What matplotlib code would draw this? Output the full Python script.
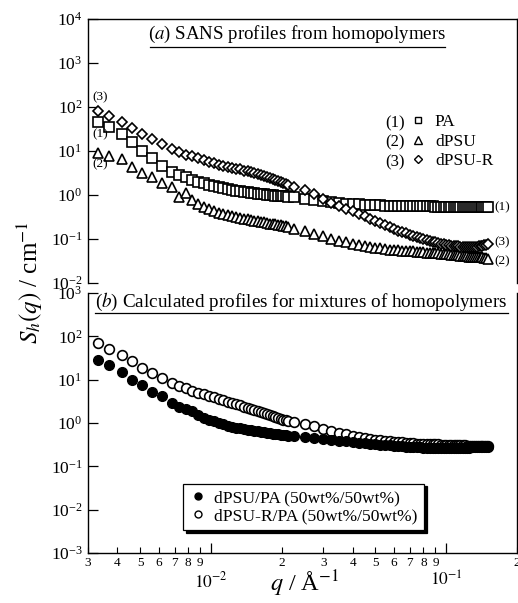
"""SANS profiles of homopolymers and calculated mixture profiles."""

import matplotlib

matplotlib.use("Agg")
import matplotlib.pyplot as plt
from matplotlib.lines import Line2D
from matplotlib.ticker import FixedLocator, FixedFormatter, LogLocator, LogFormatterMathtext, NullLocator

# scattering vector q (1/A), shared by all curves
q = [
    0.0033, 0.0037, 0.0042, 0.0046, 0.0051, 0.0056, 0.0062, 0.0068, 0.0073, 0.0078,
    0.0083, 0.0088, 0.0093, 0.0098, 0.0103, 0.0108, 0.0113, 0.0118, 0.0123, 0.0128,
    0.0133, 0.0138, 0.0143, 0.0148, 0.0153, 0.0158, 0.0163, 0.0168, 0.0173, 0.0178,
    0.0183, 0.0188, 0.0193, 0.0198, 0.0203, 0.0208, 0.0213,
    0.0225, 0.0250, 0.0275, 0.0300, 0.0325, 0.0350, 0.0375, 0.0400, 0.0425, 0.0450,
    0.0475, 0.0500, 0.0525, 0.0550, 0.0575, 0.0600, 0.0625, 0.0650, 0.0675, 0.0700,
    0.0725, 0.0750, 0.0775, 0.0800, 0.0825, 0.0850, 0.0875, 0.0900, 0.0925, 0.0950,
    0.0975, 0.1000, 0.1025, 0.1050, 0.1075, 0.1100, 0.1125, 0.1150, 0.1175, 0.1200,
    0.1225, 0.1250, 0.1275, 0.1300, 0.1325, 0.1350, 0.1375, 0.1400, 0.1425, 0.1450,
    0.1475, 0.1500,
]

# (a) homopolymers
s_pa = [
    45, 36, 24, 16, 10, 6.8, 4.6, 3.4, 2.8, 2.5,
    2.2, 2.0, 1.85, 1.7, 1.6, 1.5, 1.42, 1.36, 1.3, 1.26,
    1.22, 1.19, 1.16, 1.13, 1.1, 1.08, 1.06, 1.04, 1.02, 1.0,
    0.99, 0.97, 0.96, 0.95, 0.94, 0.93, 0.92,
    0.88, 0.82, 0.77, 0.72, 0.68, 0.65, 0.63, 0.62, 0.61, 0.60,
    0.59, 0.58, 0.58, 0.57, 0.57, 0.57, 0.56, 0.56, 0.56, 0.56,
    0.55, 0.55, 0.55, 0.55, 0.55, 0.55, 0.55, 0.54, 0.54, 0.54,
    0.54, 0.54, 0.54, 0.54, 0.54, 0.54, 0.54, 0.54, 0.54, 0.53,
    0.53, 0.53, 0.53, 0.53, 0.53, 0.53, 0.53, 0.53, 0.53, 0.53,
    0.53, 0.53,
]
s_dpsu = [
    9.1, 7.8, 6.6, 4.3, 3.2, 2.5, 1.9, 1.5, 0.92, 1.1,
    0.76, 0.62, 0.53, 0.47, 0.43, 0.40, 0.37, 0.35, 0.33, 0.315,
    0.30, 0.29, 0.28, 0.27, 0.26, 0.25, 0.245, 0.24, 0.23, 0.225,
    0.22, 0.215, 0.21, 0.205, 0.20, 0.195, 0.19,
    0.17, 0.15, 0.13, 0.115, 0.10, 0.092, 0.085, 0.079, 0.074, 0.070,
    0.066, 0.063, 0.061, 0.059, 0.057, 0.056, 0.055, 0.054, 0.053, 0.052,
    0.052, 0.051, 0.050, 0.050, 0.049, 0.049, 0.048, 0.047, 0.047, 0.046,
    0.046, 0.045, 0.045, 0.044, 0.044, 0.043, 0.043, 0.042, 0.042, 0.041,
    0.041, 0.040, 0.040, 0.040, 0.039, 0.039, 0.038, 0.038, 0.038, 0.037,
    0.037, 0.036,
]
s_dpsur = [
    83, 63, 45, 33, 24, 19, 14.5, 11.1, 9.4, 8.3,
    7.5, 6.8, 6.2, 5.7, 5.3, 4.9, 4.6, 4.4, 4.2, 4.0,
    3.8, 3.6, 3.45, 3.3, 3.15, 3.0, 2.85, 2.7, 2.55, 2.4,
    2.3, 2.2, 2.1, 2.0, 1.9, 1.8, 1.7,
    1.55, 1.28, 1.05, 0.80, 0.66, 0.57, 0.49, 0.43, 0.37, 0.33,
    0.29, 0.26, 0.23, 0.21, 0.19, 0.17, 0.155, 0.145, 0.135, 0.125,
    0.117, 0.11, 0.104, 0.099, 0.094, 0.09, 0.087, 0.084, 0.081, 0.078,
    0.076, 0.074, 0.072, 0.071, 0.07, 0.069, 0.068, 0.067, 0.066, 0.066,
    0.065, 0.065, 0.065, 0.066, 0.066, 0.067, 0.068, 0.069, 0.07, 0.072,
    0.074, 0.076,
]

# (b) calculated mixtures
s_mix_dpsu = [
    28, 22, 15, 10, 7.5, 5.3, 4.1, 2.9, 2.3, 2.1,
    1.9, 1.5, 1.3, 1.2, 1.1, 1.0, 0.93, 0.87, 0.82, 0.78,
    0.75, 0.72, 0.70, 0.68, 0.66, 0.64, 0.62, 0.61, 0.60, 0.58,
    0.57, 0.56, 0.55, 0.54, 0.53, 0.52, 0.51,
    0.50, 0.47, 0.45, 0.43, 0.41, 0.39, 0.375, 0.36, 0.35, 0.34,
    0.33, 0.32, 0.315, 0.31, 0.305, 0.30, 0.295, 0.29, 0.285, 0.28,
    0.28, 0.275, 0.275, 0.27, 0.27, 0.27, 0.27, 0.265, 0.265, 0.265,
    0.265, 0.265, 0.265, 0.265, 0.265, 0.27, 0.27, 0.27, 0.27, 0.27,
    0.27, 0.27, 0.275, 0.275, 0.275, 0.275, 0.28, 0.28, 0.28, 0.28,
    0.285, 0.285,
]
s_mix_dpsur = [
    69, 50, 37, 27, 19, 14.5, 11, 8.5, 7.2, 6.3,
    5.6, 5.0, 4.6, 4.2, 3.9, 3.6, 3.35, 3.1, 2.9, 2.7,
    2.55, 2.4, 2.25, 2.1, 2.0, 1.9, 1.8, 1.7, 1.6, 1.52,
    1.45, 1.38, 1.32, 1.26, 1.2, 1.15, 1.1,
    1.05, 0.95, 0.84, 0.74, 0.66, 0.60, 0.55, 0.51, 0.48, 0.45,
    0.43, 0.415, 0.40, 0.39, 0.38, 0.37, 0.36, 0.355, 0.35, 0.345,
    0.34, 0.335, 0.33, 0.33, 0.325, 0.325, 0.32, 0.32, 0.32, 0.315,
    0.315, 0.315, 0.31, 0.31, 0.31, 0.31, 0.305, 0.305, 0.305, 0.305,
    0.30, 0.30, 0.30, 0.30, 0.30, 0.30, 0.30, 0.30, 0.30, 0.30,
    0.30, 0.30,
]

names_a = ["PA", "dPSU", "dPSU-R"]
names_b = ["dPSU/PA (50wt%/50wt%)", "dPSU-R/PA (50wt%/50wt%)"]
minor_q = [0.003, 0.004, 0.005, 0.006, 0.007, 0.008, 0.009,
           0.02, 0.03, 0.04, 0.05, 0.06, 0.07, 0.08, 0.09, 0.2]
minor_labels = ["3", "4", "5", "6", "7", "8", "9",
                "2", "3", "4", "5", "6", "7", "8", "9", "2"]

plt.rcParams["font.family"] = ["Liberation Serif", "DejaVu Serif"]
plt.rcParams["mathtext.fontset"] = "stix"

W, H = 518, 603
fig = plt.figure(figsize=(W / 100, H / 100), dpi=100)
ax_a = fig.add_axes([88 / W, 1 - 283 / H, 429 / W, 264 / H])
ax_b = fig.add_axes([88 / W, 1 - 553 / H, 429 / W, 260 / H])

mk = dict(linestyle="none", mfc="white", mec="black", mew=1.2)
ax_a.plot(q, s_pa, marker="s", ms=7.2, **mk)
ax_a.plot(q, s_dpsu, marker="^", ms=7.4, **mk)
ax_a.plot(q, s_dpsur, marker="D", ms=5.0, **mk)

ax_b.plot(q, s_mix_dpsur, marker="o", ms=7.0, **mk)
ax_b.plot(q, s_mix_dpsu, marker="o", ms=7.0, linestyle="none",
          mfc="black", mec="black", mew=1.0)

for ax, lo, hi in ((ax_a, 1e-2, 1e4), (ax_b, 1e-3, 1e3)):
    ax.set_xscale("log")
    ax.set_yscale("log")
    ax.set_xlim(0.003, 0.2)
    ax.set_ylim(lo, hi)
    ax.yaxis.set_major_locator(LogLocator(base=10, numticks=10))
    ax.yaxis.set_major_formatter(LogFormatterMathtext())
    ax.yaxis.set_minor_locator(NullLocator())
    ax.tick_params(axis="y", which="major", direction="in", length=7,
                   width=0.9, labelsize=12.5, pad=4, right=False)
    for sp in ax.spines.values():
        sp.set_linewidth(1.0)

ax_a.spines["bottom"].set_visible(False)
ax_a.tick_params(axis="x", which="both", bottom=False, top=False, labelbottom=False)
ax_b.spines["top"].set_visible(False)

ax_b.xaxis.set_major_locator(FixedLocator([0.01, 0.1]))
ax_b.xaxis.set_major_formatter(FixedFormatter(["$10^{-2}$", "$10^{-1}$"]))
ax_b.xaxis.set_minor_locator(FixedLocator(minor_q))
ax_b.xaxis.set_minor_formatter(FixedFormatter(minor_labels))
ax_b.tick_params(axis="x", which="major", direction="in", length=7, width=0.9,
                 labelsize=12.5, pad=13, top=False)
ax_b.tick_params(axis="x", which="minor", direction="in", length=4, width=0.8,
                 labelsize=9.5, pad=3, top=False)

# panel titles with underline
ax_a.text(0.487, 0.94, "($a$) SANS profiles from homopolymers", transform=ax_a.transAxes,
          ha="center", va="center", fontsize=13.6)
ax_a.plot([0.144, 0.832], [0.893, 0.893], transform=ax_a.transAxes, color="black", lw=0.9,
          clip_on=False)
ax_b.text(0.498, 0.965, "($b$) Calculated profiles for mixtures of homopolymers",
          transform=ax_b.transAxes, ha="center", va="center", fontsize=13.8)
ax_b.plot([0.016, 0.98], [0.923, 0.923], transform=ax_b.transAxes, color="black", lw=0.9,
          clip_on=False)

# legend of panel (a)
handles_a = [
    Line2D([], [], marker="s", ms=5, linestyle="none", mfc="white", mec="black", mew=1.0),
    Line2D([], [], marker="^", ms=5.2, linestyle="none", mfc="white", mec="black", mew=1.0),
    Line2D([], [], marker="D", ms=3.8, linestyle="none", mfc="white", mec="black", mew=1.0),
]
ax_a.legend(handles_a, names_a, loc="upper left", bbox_to_anchor=(0.748, 0.64),
            frameon=False, fontsize=12.5, handlelength=1.0, handletextpad=0.5,
            labelspacing=0.2, borderpad=0, borderaxespad=0)
for i, yy in enumerate([0.604, 0.531, 0.458]):
    ax_a.text(0.692, yy, f"({i + 1})", transform=ax_a.transAxes, ha="left",
              va="center", fontsize=12)

# curve tags
for txt, xx, yy in (("(3)", 0.028, 0.705), ("(1)", 0.028, 0.564), ("(2)", 0.028, 0.451),
                    ("(1)", 0.965, 0.288), ("(3)", 0.965, 0.155), ("(2)", 0.965, 0.083)):
    ax_a.text(xx, yy, txt, transform=ax_a.transAxes, ha="center", va="center",
              fontsize=9.5)

# legend of panel (b)
handles_b = [
    Line2D([], [], marker="o", ms=5, linestyle="none", mfc="black", mec="black"),
    Line2D([], [], marker="o", ms=5, linestyle="none", mfc="white", mec="black", mew=1.0),
]
leg = ax_b.legend(handles_b, names_b, loc="lower left", bbox_to_anchor=(0.221, 0.088),
                  frameon=True, fancybox=False, fontsize=12.6, handlelength=1.0,
                  handletextpad=0.45, labelspacing=0.1, borderpad=0.35,
                  borderaxespad=0, shadow={"color": "black", "alpha": 1.0})
leg.get_frame().set_edgecolor("black")
leg.get_frame().set_linewidth(0.9)

fig.text(30 / W, 1 - 283 / H, "$S_h(q)$ / cm$^{-1}$", rotation=90, ha="center",
         va="center", fontsize=18)
fig.text(305 / W, 1 - 584 / H, "$q$ / Å$^{-1}$", ha="center", va="center", fontsize=17.5)

fig.savefig("out.png", dpi=100)
plt.close(fig)
